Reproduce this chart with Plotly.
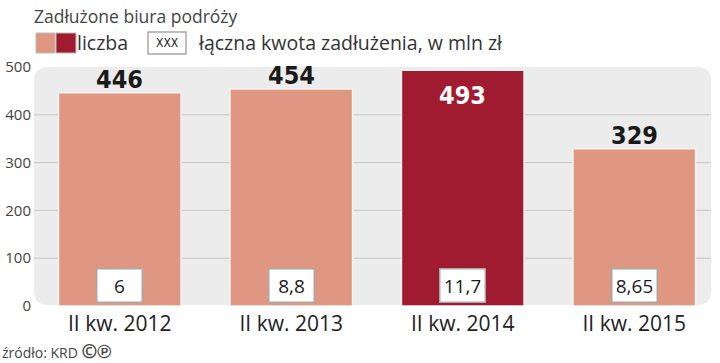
import plotly.graph_objects as go

categories = ["II kw. 2012", "II kw. 2013", "II kw. 2014", "II kw. 2015"]
counts = [446, 454, 493, 329]
debt_labels = ["6", "8,8", "11,7", "8,65"]
highlight = [False, False, True, False]
y_ticks = [0, 100, 200, 300, 400, 500]

LIGHT = "#df9782"
DARK = "#a11b30"

W, H = 720, 363
L, R, T, B = 34, 0, 67, 57
PW, PH = W - L - R, H - T - B

def px(x):
    return (x - L) / PW

def py(y):
    return (H - B - y) / PH

colors = [DARK if h else LIGHT for h in highlight]

fig = go.Figure()
fig.add_trace(go.Bar(
    x=list(range(len(categories))), y=counts,
    marker=dict(color=colors, line=dict(color="#f4f4f4", width=1.5)),
    width=0.715, hoverinfo="skip",
))

shapes = []
x0, x1, y0, y1 = -0.5, 3.449, 2, 500
rx, ry = 0.085, 30
panel = (f"M {x0+rx},{y1} L {x1-rx},{y1} Q {x1},{y1} {x1},{y1-ry} "
         f"L {x1},{y0+ry} Q {x1},{y0} {x1-rx},{y0} L {x0+rx},{y0} "
         f"Q {x0},{y0} {x0},{y0+ry} L {x0},{y1-ry} Q {x0},{y1} {x0+rx},{y1} Z")
shapes.append(dict(type="path", path=panel, xref="x", yref="y", layer="below",
                   fillcolor="#ececec", line=dict(width=0)))
for v in y_ticks[1:-1]:
    shapes.append(dict(type="line", xref="x", yref="y", x0=-0.5, x1=3.449, y0=v, y1=v,
                       layer="below", line=dict(color="#c6c6c6", width=1)))

# legend swatches
shapes.append(dict(type="rect", xref="paper", yref="paper", x0=px(36), x1=px(55), y0=py(53), y1=py(33),
                   fillcolor=LIGHT, line=dict(color="#bbbbbb", width=1)))
shapes.append(dict(type="rect", xref="paper", yref="paper", x0=px(56), x1=px(76), y0=py(53), y1=py(33),
                   fillcolor=DARK, line=dict(color="#bbbbbb", width=1)))
shapes.append(dict(type="rect", xref="paper", yref="paper", x0=px(148), x1=px(186), y0=py(54), y1=py(32),
                   fillcolor="white", line=dict(color="#a8a8a8", width=1.5)))

VFONT = "DejaVu Sans Condensed, DejaVu Sans, sans-serif"
ann = []
for i, (c, h, d) in enumerate(zip(counts, highlight, debt_labels)):
    ann.append(dict(x=i, y=c, xref="x", yref="y", text=f"<b>{c}</b>", showarrow=False,
                    yanchor="middle", yshift=(-25 if h else 13),
                    font=dict(family=VFONT, size=25, color=("white" if h else "#1a1a1a"))))
    ann.append(dict(x=i, y=0, xref="x", yref="y", text=d, showarrow=False,
                    yanchor="bottom", yshift=3, width=36, height=24,
                    bgcolor="white", bordercolor="#a8a8a8", borderwidth=1.5, borderpad=4,
                    font=dict(family="Open Sans, sans-serif", size=19, color="#1a1a1a")))

ann.append(dict(xref="paper", yref="paper", x=px(32), y=py(16), xanchor="left", yanchor="middle",
                text="Zadłużone biura podróży", showarrow=False,
                font=dict(family="Open Sans, sans-serif", size=17.5, color="#444444")))
ann.append(dict(xref="paper", yref="paper", x=px(75), y=py(43), xanchor="left", yanchor="middle",
                text="liczba", showarrow=False,
                font=dict(family="Open Sans, sans-serif", size=19.5, color="#333333")))
ann.append(dict(xref="paper", yref="paper", x=px(167), y=py(43), xanchor="center", yanchor="middle",
                text="XXX", showarrow=False,
                font=dict(family="DejaVu Sans Condensed, sans-serif", size=12, color="#222222")))
ann.append(dict(xref="paper", yref="paper", x=px(196), y=py(43), xanchor="left", yanchor="middle",
                text="łączna kwota zadłużenia, w mln zł", showarrow=False,
                font=dict(family="Open Sans, sans-serif", size=19.5, color="#333333")))
ann.append(dict(xref="paper", yref="paper", x=px(0), y=py(351), xanchor="left", yanchor="middle",
                text="źródło: KRD <b><span style='font-size:19px'>©℗</span></b>", showarrow=False,
                font=dict(family="Open Sans, sans-serif", size=14, color="#444444")))

fig.update_layout(
    width=W, height=H,
    margin=dict(l=L, r=R, t=T, b=B),
    paper_bgcolor="white", plot_bgcolor="white",
    showlegend=False,
    shapes=shapes, annotations=ann,
    xaxis=dict(range=[-0.5, 3.5], tickvals=list(range(len(categories))), ticktext=categories,
               showgrid=False, zeroline=False, showline=False, ticks="", automargin=False,
               ticklabelstandoff=3,
               tickfont=dict(family="Open Sans, sans-serif", size=21, color="#222222")),
    yaxis=dict(range=[0, 500], tickvals=y_ticks, showgrid=False, zeroline=False, showline=False,
               ticks="", ticklabelstandoff=2, automargin=False,
               tickfont=dict(family="Open Sans, sans-serif", size=15, color="#444444")),
)

fig.write_html("out.html", config={"displayModeBar": False},
               post_script="document.body.style.margin='0px';")
